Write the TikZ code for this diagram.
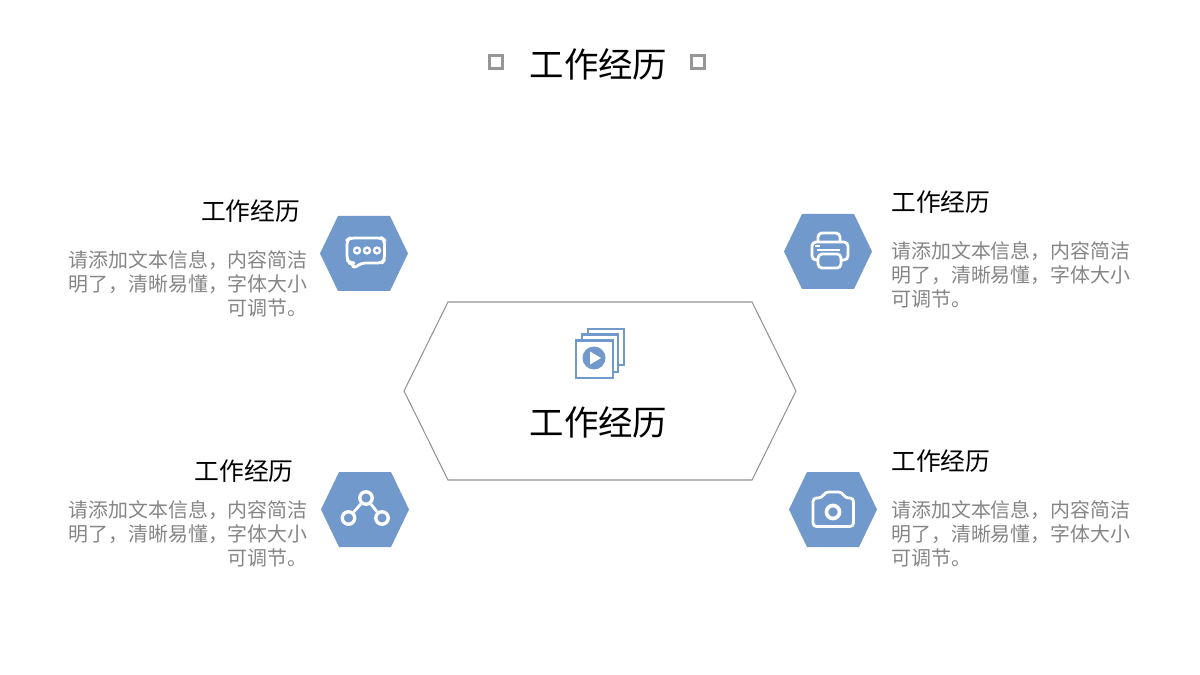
\documentclass[tikz,border=0pt]{standalone}
\usepackage{fontspec}
\setmainfont{Noto Sans CJK SC}
\definecolor{hexblue}{HTML}{7299CC}
\definecolor{bodygray}{HTML}{858585}
\definecolor{markgray}{HTML}{969696}
\tikzset{
  headtext/.style={font=\fontsize{19.6}{23}\selectfont,text=black,inner sep=0pt},
  subtext/.style={font=\fontsize{14.1}{17}\selectfont,text=black,inner sep=0pt},
  bodytext/.style={font=\fontsize{11.34}{13.66}\selectfont,text=bodygray,inner sep=0pt,text width=4.8cm},
  titlemark/.style={draw=markgray,line width=1.8pt,minimum size=0.25cm,inner sep=0pt},
  iconline/.style={draw=white,line width=1.6pt,line join=round},
  netdot/.style={circle,draw=white,line width=1.9pt,minimum size=0.25cm,inner sep=0pt},
  stackpage/.style={draw=hexblue,line width=1.5pt,fill=white}
}
\begin{document}
\begin{tikzpicture}[x=0.02cm,y=-0.02cm]
\useasboundingbox (0,0) rectangle (1200,675);
% title
\node[headtext] (title) at (598.5,64) {工作经历};
\node[titlemark] (markL) at (496,62) {};
\node[titlemark] (markR) at (698,62) {};
% middle
\draw[gray!85!white,line width=0.6pt] (404,391) -- (448,302) -- (752,302) -- (796,391) -- (752,480) -- (448,480) -- cycle;
\node[headtext] (midtitle) at (598.5,422) {工作经历};
\draw[stackpage] (588,329) rectangle (624,365);
\draw[stackpage] (582,334.5) rectangle (618,372);
\draw[stackpage] (576,340.5) rectangle (613,378);
\fill[hexblue] (594,358) circle (11.5);
\fill[white] (590,351.5) -- (601,358) -- (590,364.5) -- cycle;
% blue hexagons
\foreach \cx/\cy in {364/253.5,828/251.5,365/509.5,833/509.5}
  \fill[hexblue,shift={(\cx,\cy)}] (-44,0) -- (-26,-37.5) -- (26,-37.5) -- (44,0) -- (26,37.5) -- (-26,37.5) -- cycle;
% top left
\node[subtext,anchor=east] (subTL) at (300.5,211) {工作经历};
\node[bodytext,anchor=north east,align=right] (bodyTL) at (308,250) {请添加文本信息，内容简洁\\明了，清晰易懂，字体大小\\可调节。};
\draw[iconline,rounded corners=0.08cm] (353,263) -- (350,263) -- (347,260) -- (347,240) -- (350,238) -- (382,238) -- (384.5,240) -- (384.5,260) -- (382,263) -- (361,263) -- (353.5,269) -- cycle;
\foreach \ix in {357,367,377}
  \draw[white,line width=1.3pt] (\ix,250.5) circle (3);
% top right
\node[subtext,anchor=west] (subTR) at (891,202) {工作经历};
\node[bodytext,anchor=north west,align=left] (bodyTR) at (891,241) {请添加文本信息，内容简洁\\明了，清晰易懂，字体大小\\可调节。};
\draw[iconline,rounded corners=0.08cm] (818,242) -- (818,233) -- (840,233) -- (840,242);
\draw[iconline,rounded corners=0.08cm] (818,260) -- (812,260) -- (812,242) -- (848,242) -- (848,260) -- (841,260);
\draw[iconline,rounded corners=0.08cm] (818,254) rectangle (841,268);
\draw[white,line width=1pt] (817,250) -- (840,250) (815,246) -- (820,246);
% bottom left
\node[subtext,anchor=east] (subBL) at (294,471) {工作经历};
\node[bodytext,anchor=north east,align=right] (bodyBL) at (308,500) {请添加文本信息，内容简洁\\明了，清晰易懂，字体大小\\可调节。};
\node[netdot] (netT) at (366,498) {};
\node[netdot] (netL) at (348.5,518) {};
\node[netdot] (netR) at (382,518) {};
\draw[white,line width=1.6pt] (netT) -- (netL) (netT) -- (netR);
% bottom right
\node[subtext,anchor=west] (subBR) at (891,461) {工作经历};
\node[bodytext,anchor=north west,align=left] (bodyBR) at (891,500) {请添加文本信息，内容简洁\\明了，清晰易懂，字体大小\\可调节。};
\draw[iconline,rounded corners=0.07cm] (813,498) -- (822,498) -- (825,492) -- (842,492) -- (845,498) -- (853.5,498) -- (853.5,526.5) -- (813,526.5) -- cycle;
\draw[white,line width=2.1pt] (833,512) circle (6.5);
\end{tikzpicture}
\end{document}
